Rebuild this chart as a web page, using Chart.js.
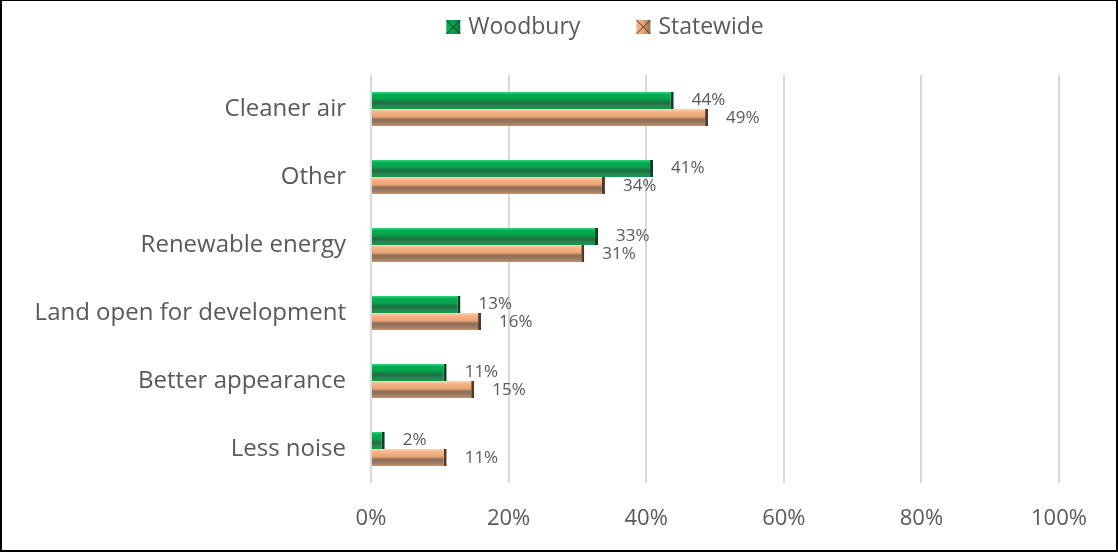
<!DOCTYPE html>
<html>
<head>
<meta charset="utf-8">
<script src="https://cdn.jsdelivr.net/npm/chart.js@4.4.0/dist/chart.umd.min.js"></script>
<style>
  html, body { margin: 0; padding: 0; background: #fff; }
  #wrap { position: relative; width: 1118px; height: 552px; }
  #c { position: absolute; left: 0; top: 0; }
  #frame { position: absolute; left: 0; top: 0; width: 1118px; height: 552px; box-sizing: border-box; border: 2px solid #000; border-top: 1px solid #000; pointer-events: none; }
</style>
</head>
<body>
<div id="wrap">
  <canvas id="c" width="1118" height="552"></canvas>
  <div id="frame"></div>
</div>
<script>
const categories = ["Cleaner air", "Other", "Renewable energy", "Land open for development", "Better appearance", "Less noise"];
const woodbury = [44, 41, 33, 13, 11, 2];
const statewide = [49, 34, 31, 16, 15, 11];
const xTicks = [0, 20, 40, 60, 80, 100];
const seriesNames = ["Woodbury", "Statewide"];

const FONT = "'Open Sans', 'Noto Sans', sans-serif";
const TXT = "#595959";
const BAR_H = 17;

const greenStops = [[0, "#3ad483"], [0.15, "#00b050"], [0.45, "#0b9c4a"], [0.62, "#1c6d40"], [0.85, "#268a52"], [1, "#129b52"]];
const orangeStops = [[0, "#fdd5b4"], [0.18, "#f6b487"], [0.45, "#e7a474"], [0.62, "#8e6d57"], [0.85, "#9f7c65"], [1, "#c99570"]];
const capColors = ["#173a27", "#4b3a2f"];

function barGradient(stops, dsIndex) {
  return function (ctx) {
    const chart = ctx.chart;
    const y = chart.scales && chart.scales.y;
    if (!y || ctx.dataIndex === undefined) return stops[1][1];
    const c = y.getPixelForValue(ctx.dataIndex);
    if (!isFinite(c)) return stops[1][1];
    const top = dsIndex === 0 ? c - BAR_H : c;
    const g = chart.ctx.createLinearGradient(0, top, 0, top + BAR_H);
    stops.forEach(s => g.addColorStop(s[0], s[1]));
    return g;
  };
}

// Custom legend drawn at the top (Excel-style spacing)
const topLegend = {
  id: 'topLegend',
  afterDraw(chart) {
    const ctx = chart.ctx;
    ctx.save();
    ctx.font = "23px " + FONT;
    ctx.textBaseline = 'middle';
    ctx.textAlign = 'left';
    const box = 14, gapText = 8, gapItem = 56;
    const widths = seriesNames.map(n => ctx.measureText(n).width);
    const total = widths.reduce((a, w) => a + box + gapText + w, 0) + gapItem * (seriesNames.length - 1);
    const center = 605;
    let x = center - total / 2;
    const yMid = 27;
    seriesNames.forEach((n, i) => {
      const stops = i === 0 ? greenStops : orangeStops;
      const g = ctx.createLinearGradient(x, 0, x + box, 0);
      g.addColorStop(0, stops[1][1]);
      g.addColorStop(0.5, stops[2][1]);
      g.addColorStop(1, stops[3][1]);
      ctx.fillStyle = g;
      ctx.fillRect(x, yMid - box / 2, box, box);
      ctx.strokeStyle = capColors[i];
      ctx.lineWidth = 1;
      ctx.beginPath();
      ctx.moveTo(x, yMid - box / 2); ctx.lineTo(x + box / 2, yMid); ctx.lineTo(x, yMid + box / 2);
      ctx.moveTo(x + box, yMid - box / 2); ctx.lineTo(x + box / 2, yMid); ctx.lineTo(x + box, yMid + box / 2);
      ctx.stroke();
      ctx.fillStyle = TXT;
      ctx.fillText(n, x + box + gapText, yMid);
      x += box + gapText + widths[i] + gapItem;
    });
    ctx.restore();
  }
};

const valueLabels = {
  id: 'valueLabels',
  afterDatasetsDraw(chart) {
    const ctx = chart.ctx;
    ctx.save();
    ctx.font = "17px " + FONT;
    ctx.fillStyle = TXT;
    ctx.textAlign = 'left';
    ctx.textBaseline = 'middle';
    chart.data.datasets.forEach((ds, di) => {
      const meta = chart.getDatasetMeta(di);
      meta.data.forEach((el, i) => {
        ctx.fillText(ds.data[i] + "%", el.x + 18, el.y + (di === 0 ? 0 : 1));
      });
    });
    ctx.restore();
  }
};

new Chart(document.getElementById('c'), {
  type: 'bar',
  data: {
    labels: categories,
    datasets: [
      {
        label: seriesNames[0],
        data: woodbury,
        backgroundColor: barGradient(greenStops, 0),
        borderColor: capColors[0],
        borderWidth: { top: 0, bottom: 0, left: 0, right: 3 },
        borderSkipped: false,
        categoryPercentage: 0.5,
        barPercentage: 1.0
      },
      {
        label: seriesNames[1],
        data: statewide,
        backgroundColor: barGradient(orangeStops, 1),
        borderColor: capColors[1],
        borderWidth: { top: 0, bottom: 0, left: 0, right: 3 },
        borderSkipped: false,
        categoryPercentage: 0.5,
        barPercentage: 1.0
      }
    ]
  },
  options: {
    indexAxis: 'y',
    responsive: false,
    animation: false,
    devicePixelRatio: 1,
    layout: { padding: { left: 0, right: 59, top: 75, bottom: 0 } },
    plugins: {
      tooltip: { enabled: false },
      legend: { display: false }
    },
    scales: {
      x: {
        min: 0,
        max: 100,
        afterBuildTicks(scale) { scale.ticks = xTicks.map(v => ({ value: v })); },
        afterFit(scale) { scale.height = 69; },
        ticks: {
          font: { family: FONT, size: 22 },
          color: TXT,
          padding: 23,
          callback: v => v + "%"
        },
        grid: { color: "#d9d9d9", lineWidth: 2, drawTicks: false },
        border: { display: false }
      },
      y: {
        afterFit(scale) { scale.width = 371; },
        ticks: {
          font: { family: FONT, size: 24 },
          color: TXT,
          padding: 25
        },
        grid: { display: false, drawTicks: false },
        border: { display: false }
      }
    }
  },
  plugins: [topLegend, valueLabels]
});
</script>
</body>
</html>
